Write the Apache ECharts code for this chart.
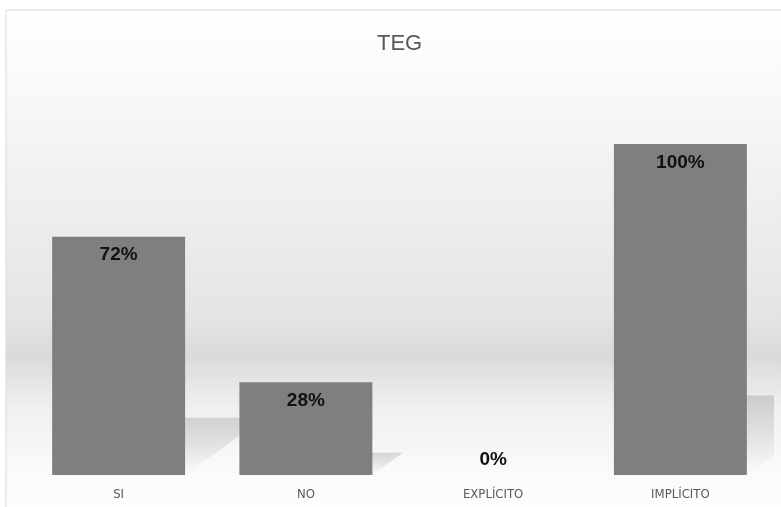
<!DOCTYPE html>
<html>
<head>
<meta charset="utf-8">
<script src="https://cdn.jsdelivr.net/npm/echarts@6/dist/echarts.min.js"></script>
<style>
html,body{margin:0;padding:0;background:#fff;}
#chart{width:781px;height:507px;}
</style>
</head>
<body>
<div id="chart"></div>
<script>
const titleText = 'TEG';
const categories = ['SI', 'NO', 'EXPLÍCITO', 'IMPLÍCITO'];
const values = [72, 28, 0, 100];

const chart = echarts.init(document.getElementById('chart'));
const fontNarrow = '"Liberation Sans Narrow", "DejaVu Sans Condensed", "Liberation Sans", sans-serif';
const BW = 0.71;

const barData = values.map(v => ({
  value: v,
  label: v === 0 ? { position: 'top', distance: 6 } : undefined
}));

const option = {
  backgroundColor: '#ffffff',
  animation: false,
  graphic: [{
    type: 'rect',
    z: -10,
    silent: true,
    shape: { x: 6, y: 10, width: 800, height: 520 },
    style: {
      fill: new echarts.graphic.LinearGradient(0, 0, 0, 1, [
        { offset: 0.0, color: '#ffffff' },
        { offset: 0.10, color: '#fbfbfb' },
        { offset: 0.36, color: '#efefef' },
        { offset: 0.58, color: '#e5e5e5' },
        { offset: 0.665, color: '#dadada' },
        { offset: 0.76, color: '#efefef' },
        { offset: 0.88, color: '#fafafa' },
        { offset: 1.0, color: '#ffffff' }
      ]),
      stroke: '#d9d9d9',
      lineWidth: 1
    }
  }],
  title: {
    text: titleText,
    left: 372,
    top: 28,
    textStyle: { fontFamily: '"Liberation Sans", Arial, sans-serif', fontSize: 22, fontWeight: 'normal', color: '#595959' }
  },
  grid: { left: 25, right: 7, top: 144, bottom: 32 },
  xAxis: {
    type: 'category',
    data: categories,
    axisLine: { show: false },
    axisTick: { show: false },
    axisLabel: { color: '#595959', fontSize: 13, fontFamily: fontNarrow, margin: 13 }
  },
  yAxis: {
    type: 'value',
    min: 0,
    max: 100,
    show: false,
    splitLine: { show: false }
  },
  series: [
    {
      type: 'custom',
      z: 1,
      clip: true,
      silent: true,
      data: values.map((v, i) => [i, v]),
      encode: { x: 0, y: 1 },
      renderItem: function (params, api) {
        const i = api.value(0), v = api.value(1);
        const top = api.coord([i, v]);
        const base = api.coord([i, 0]);
        const h = base[1] - top[1];
        if (h <= 0) return null;
        const bw = api.size([1, 0])[0] * BW;
        const x0 = base[0] - bw / 2, x1 = base[0] + bw / 2, yb = base[1];
        const sx = 0.33 * h, sy = 0.24 * h;
        return {
          type: 'polygon',
          shape: { points: [[x0, yb], [x1, yb], [x1 + sx, yb - sy], [x0 + sx, yb - sy]] },
          style: {
            fill: new echarts.graphic.LinearGradient(0, 0, 0, 1, [
              { offset: 0, color: 'rgba(0,0,0,0.13)' },
              { offset: 0.5, color: 'rgba(0,0,0,0.07)' },
              { offset: 1, color: 'rgba(0,0,0,0.0)' }
            ]),
            shadowBlur: 12,
            shadowColor: 'rgba(0,0,0,0.10)'
          }
        };
      }
    },
    {
      type: 'bar',
      z: 2,
      data: barData,
      barWidth: (BW * 100) + '%',
      itemStyle: { color: '#7f7f7f' },
      label: {
        show: true,
        position: 'insideTop',
        distance: 9,
        formatter: '{c}%',
        fontFamily: '"Liberation Sans", Arial, sans-serif',
        fontWeight: 'bold',
        fontSize: 19,
        color: '#111111'
      }
    }
  ]
};
chart.setOption(option);
</script>
</body>
</html>
